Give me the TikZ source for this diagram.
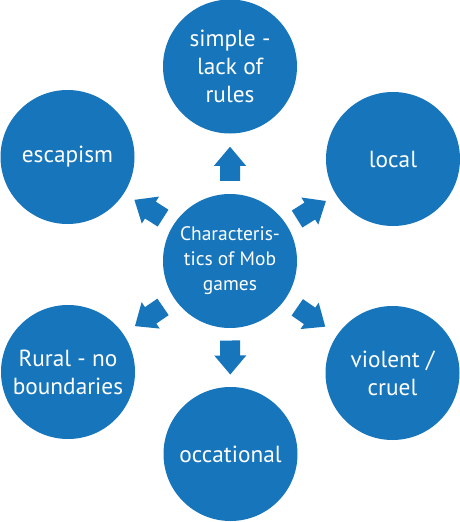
\documentclass[tikz,border=0pt]{standalone}
\usepackage{fontspec}
\setmainfont{PT Sans}
\usetikzlibrary{calc}
\definecolor{mobblue}{RGB}{22,117,187}
\tikzset{
  bubble/.style={circle, fill=mobblue, text=white, minimum size=134pt, inner sep=0pt,
    align=center, font=\fontsize{23.3}{28}\selectfont},
  hubbubble/.style={bubble, font=\fontsize{19.5}{25}\selectfont},
}
\begin{document}
\begin{tikzpicture}[x=1pt,y=-1pt]
  \useasboundingbox (0,0) rectangle (460,522);
  \node[hubbubble] (hub) at (230,261) {Characteris-\\tics of Mob\\games};
  \node[bubble] (simple) at (230,66.5) {simple -\\lack of\\rules};
  \node[bubble] (local) at (393,159) {local};
  \node[bubble] (violent) at (392.5,373) {violent /\\cruel};
  \node[bubble] (occ) at (230.5,454) {occational};
  \node[bubble] (rural) at (68,372) {Rural - no\\boundaries};
  \node[bubble] (escape) at (67.5,157) {escapism};
  % block arrows, centred in each gap
  \foreach \b in {simple,local,violent,occ,rural,escape}
    \fill[mobblue] let \p1=($(\b)-(hub)$), \n1={atan2(\y1,\x1)} in
      ($(hub)!0.5!(\b)+(\n1:-17pt)+(\n1+90:10pt)$) --
      ($(hub)!0.5!(\b)+(\n1:-2pt)+(\n1+90:10pt)$) --
      ($(hub)!0.5!(\b)+(\n1:-2pt)+(\n1+90:16pt)$) --
      ($(hub)!0.5!(\b)+(\n1:17pt)$) --
      ($(hub)!0.5!(\b)+(\n1:-2pt)+(\n1-90:16pt)$) --
      ($(hub)!0.5!(\b)+(\n1:-2pt)+(\n1-90:10pt)$) --
      ($(hub)!0.5!(\b)+(\n1:-17pt)+(\n1-90:10pt)$) -- cycle;
\end{tikzpicture}
\end{document}
